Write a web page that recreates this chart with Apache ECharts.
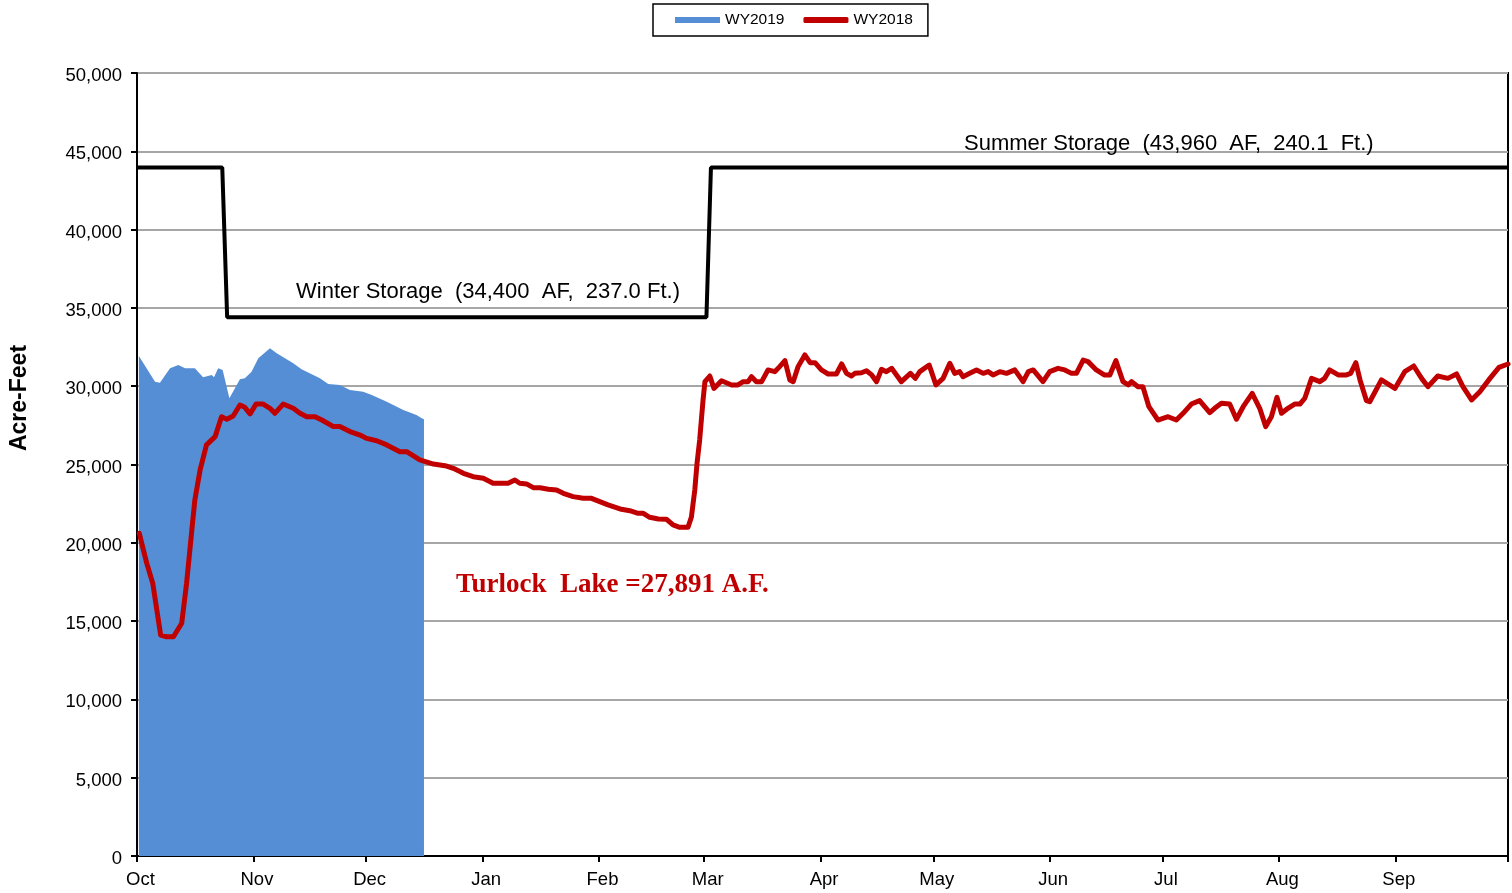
<!DOCTYPE html>
<html>
<head>
<meta charset="utf-8">
<script src="https://cdn.jsdelivr.net/npm/echarts@6/dist/echarts.min.js"></script>
<style>
html,body{margin:0;padding:0;background:#fff;}
#chart{width:1512px;height:893px;}
</style>
</head>
<body>
<div id="chart"></div>
<script>
// Month tick positions (days from Oct 1) and labels
const monthStarts = [0, 31, 61, 92, 123, 151, 182, 212, 243, 273, 304, 335];
const monthLabels = ['Oct', 'Nov', 'Dec', 'Jan', 'Feb', 'Mar', 'Apr', 'May', 'Jun', 'Jul', 'Aug', 'Sep'];
const yTicks = [0, 5000, 10000, 15000, 20000, 25000, 30000, 35000, 40000, 45000, 50000];

// WY2019 storage (acre-feet), day of water year
const wy2019Days = [0.5, 4.8, 6.1, 8.8, 11, 12.8, 15.4, 17.6, 19.9, 20.5, 21.6, 22.8, 24.6, 27.4, 28.7, 30.5, 32.3, 35.4, 37.2, 41.6, 43.8, 48.7, 50.9, 54, 56.7, 60.2, 60.7, 62.5, 66.5, 70.9, 74.4, 75.8, 76.4];
const wy2019Values = [31930, 30290, 30225, 31140, 31350, 31140, 31140, 30570, 30720, 30570, 31140, 31035, 29230, 30440, 30500, 30930, 31780, 32420, 32100, 31460, 31075, 30500, 30140, 30080, 29760, 29650, 29700, 29440, 29010, 28480, 28160, 27950, 27891];

// WY2018 storage (acre-feet)
const wy2018Days = [0.6, 2.6, 4.2, 6.3, 7.9, 9.7, 11.9, 13.2, 14.6, 15.4, 16.8, 18.5, 20.8, 22.5, 23.9, 25.6, 27.4, 28.7, 30.1, 31.7, 33.6, 35.4, 36.7, 38.9, 41.6, 43.4, 45.2, 47.4, 49.2, 52.3, 54, 56.7, 59.4, 61.1, 63.8, 66.5, 70, 71.8, 75.3, 78.9, 82.4, 84.2, 86.9, 89.5, 92.2, 94.8, 98.8, 100.6, 101.9, 103.7, 105.5, 107.3, 109.5, 111.7, 113.5, 116.1, 118.8, 121, 123.2, 125.4, 128.6, 131.2, 133.4, 134.8, 136.5, 138.8, 141, 142.7, 144.5, 146.7, 147.6, 148.5, 149.1, 149.8, 150.7, 151.2, 152.5, 153.6, 155.6, 158.3, 160, 161.4, 162.7, 163.6, 164.9, 166.3, 168, 169.8, 171.1, 172.5, 173.8, 174.7, 176, 177.8, 179.2, 180.5, 182.2, 184, 186.2, 187.6, 188.9, 190.2, 191.1, 192.9, 194.2, 195.6, 196.9, 198.2, 199.5, 200.9, 202.2, 203.5, 205.9, 207.2, 208.4, 210.9, 211.5, 212.7, 214.6, 216.4, 217.7, 219, 219.9, 221.7, 223.5, 225.3, 226.6, 227.9, 229.7, 231.5, 233.7, 235.9, 237.3, 238.6, 241.2, 243, 245.2, 247, 248.8, 250.1, 251.9, 253.2, 255.4, 257.5, 259, 260.6, 262.5, 263.9, 264.8, 266.5, 267.8, 269.4, 271.8, 274.5, 276.7, 278.5, 280.7, 282.9, 285.6, 286.9, 288.7, 290.9, 292.7, 294.5, 296.9, 298.9, 300.5, 302, 303.5, 304.7, 306.4, 308.2, 309.6, 310.9, 312.7, 314.9, 316.2, 317.5, 319.8, 322, 323.1, 324.5, 325.6, 327.3, 328.2, 331.3, 334.9, 337.5, 339.9, 342, 343.7, 346.3, 349, 351.3, 353, 355.3, 357.5, 360.2, 362.6, 365];
const wy2018Values = [20610, 18690, 17410, 14110, 14000, 14000, 14860, 17410, 20820, 22730, 24650, 26250, 26780, 28050, 27890, 28100, 28800, 28650, 28230, 28860, 28860, 28590, 28270, 28860, 28590, 28270, 28050, 28050, 27840, 27420, 27420, 27100, 26880, 26670, 26520, 26250, 25820, 25820, 25290, 25030, 24900, 24760, 24440, 24220, 24120, 23800, 23800, 24010, 23800, 23760, 23520, 23520, 23420, 23370, 23160, 22950, 22840, 22840, 22630, 22420, 22160, 22050, 21880, 21880, 21630, 21520, 21500, 21140, 20990, 20990, 21650, 23370, 25080, 26570, 29120, 30290, 30650, 29860, 30350, 30080, 30080, 30290, 30290, 30610, 30290, 30290, 31040, 30930, 31250, 31630, 30400, 30290, 31250, 32000, 31500, 31500, 31040, 30780, 30780, 31420, 30820, 30650, 30820, 30860, 30990, 30720, 30290, 31080, 30930, 31140, 30720, 30290, 30820, 30500, 30930, 31350, 30930, 30080, 30500, 31460, 30820, 30930, 30610, 30820, 31040, 30820, 30930, 30720, 30930, 30820, 31040, 30290, 30930, 31040, 30290, 30930, 31140, 31040, 30820, 30820, 31670, 31570, 31040, 30720, 30720, 31630, 30290, 30080, 30290, 29970, 29970, 28690, 27840, 28050, 27840, 28270, 28860, 29080, 28310, 28590, 28910, 28860, 27890, 28690, 29540, 28590, 27420, 28050, 29290, 28270, 28590, 28860, 28860, 29230, 30500, 30290, 30500, 31040, 30720, 30720, 30820, 31500, 30400, 29080, 29010, 30400, 29860, 30930, 31290, 30500, 29970, 30650, 30500, 30780, 29970, 29120, 29650, 30500, 31200, 31420];

// Storage rule curve
const ruleDays = [0, 22.7, 24, 151.6, 152.8, 365];
const ruleValues = [43960, 43960, 34400, 34400, 43960, 43960];

const pairs = (xs, ys) => xs.map((x, i) => [x, ys[i]]);
const fmtNum = v => String(v).replace(/\B(?=(\d{3})+(?!\d))/g, ',');

const chart = echarts.init(document.getElementById('chart'));
const FONT = 'Liberation Sans, Arial, sans-serif';

chart.setOption({
  backgroundColor: '#fff',
  animation: false,
  textStyle: { fontFamily: FONT },
  grid: { left: 137, right: 4, top: 73, bottom: 37, show: true, borderColor: '#000', borderWidth: 2, backgroundColor: 'transparent' },
  legend: {
    left: 653, top: 4,
    padding: [8, 15, 8, 22],
    itemGap: 19,
    itemWidth: 45, itemHeight: 6,
    borderColor: '#000', borderWidth: 1.5,
    textStyle: { fontSize: 15.5, color: '#000', fontFamily: FONT },
    data: [
      { name: 'WY2019', icon: 'rect', itemStyle: { color: '#558ed5' } },
      { name: 'WY2018', icon: 'roundRect', itemStyle: { color: '#c00000' } }
    ]
  },
  xAxis: {
    type: 'value', min: 0, max: 365,
    axisLine: { show: true, lineStyle: { color: '#000', width: 2 } },
    axisTick: { show: true, length: 6, lineStyle: { color: '#000', width: 2 }, customValues: monthStarts.concat([365]) },
    axisLabel: {
      customValues: monthStarts,
      formatter: v => monthLabels[monthStarts.indexOf(Math.round(v))] || '',
      fontSize: 18.5, color: '#000', margin: 14, padding: [0, 0, 0, 7], fontFamily: FONT
    },
    splitLine: { show: false }
  },
  yAxis: {
    type: 'value', min: 0, max: 50000, interval: 5000,
    axisLine: { show: true, lineStyle: { color: '#000', width: 2 } },
    axisTick: { show: true, length: 6, lineStyle: { color: '#000', width: 2 } },
    axisLabel: {
      formatter: v => '{a|' + fmtNum(v) + '}',
      rich: { a: { fontSize: 18.5, color: '#000', fontFamily: FONT, padding: [6, 0, 0, 0] } },
      fontSize: 18.5, color: '#000', margin: 15, fontFamily: FONT
    },
    splitLine: { show: true, lineStyle: { color: '#a6a6a6', width: 2 } }
  },
  series: [
    {
      name: 'WY2019', type: 'line', data: pairs(wy2019Days, wy2019Values),
      showSymbol: false, symbol: 'none',
      lineStyle: { width: 0, color: '#558ed5' },
      itemStyle: { color: '#558ed5' },
      areaStyle: { color: '#558ed5', opacity: 1 },
      z: 1
    },
    {
      name: 'WY2018', type: 'line', data: pairs(wy2018Days, wy2018Values),
      showSymbol: false, symbol: 'none',
      lineStyle: { width: 5, color: '#c00000', join: 'round', cap: 'round' },
      itemStyle: { color: '#c00000' },
      z: 3
    },
    {
      name: 'Storage', type: 'line', data: pairs(ruleDays, ruleValues),
      showSymbol: false, symbol: 'none',
      lineStyle: { width: 4, color: '#000' },
      itemStyle: { color: '#000' },
      z: 4
    }
  ],
  graphic: [
    { type: 'text', x: 20, y: 398, rotation: Math.PI / 2, z: 10, style: { text: 'Acre-Feet', fontSize: 23, fontWeight: 'bold', fill: '#000', fontFamily: FONT, align: 'center', verticalAlign: 'middle' } },
    { type: 'text', left: 296, top: 281, z: 10, style: { text: 'Winter Storage  (34,400  AF,  237.0 Ft.)', fontSize: 22, fill: '#000', fontFamily: FONT } },
    { type: 'text', left: 964, top: 133, z: 10, style: { text: 'Summer Storage  (43,960  AF,  240.1  Ft.)', fontSize: 22, fill: '#000', fontFamily: FONT } },
    { type: 'text', left: 456, top: 572, z: 10, style: { text: 'Turlock  Lake =27,891 A.F.', fontSize: 27, fontWeight: 'bold', fill: '#c00000', fontFamily: 'Liberation Serif, Times New Roman, serif' } }
  ]
});
</script>
</body>
</html>
